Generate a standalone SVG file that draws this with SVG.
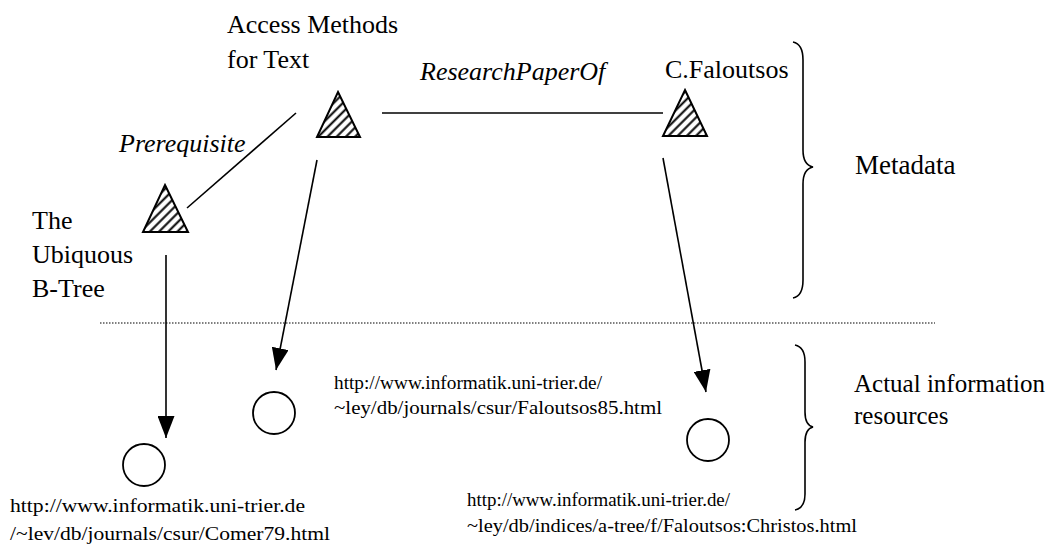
<svg xmlns="http://www.w3.org/2000/svg" width="1052" height="549" viewBox="0 0 1052 549">
<style>
text{font-family:"Liberation Serif","Times New Roman","DejaVu Serif",serif;fill:#000}
.lbl{font-size:26px}
.it{font-size:26px;font-style:italic}
.url{font-size:19px}
.ln{stroke:#000;stroke-width:1.6;fill:none}
.tri{fill:url(#hatch);stroke:#000;stroke-width:2;stroke-linejoin:miter}
.res{fill:#fff;stroke:#000;stroke-width:1.8}
.br{stroke:#000;stroke-width:1.6;fill:none}
</style>
<defs>
<pattern id="hatch" patternUnits="userSpaceOnUse" width="6.5" height="6.5" patternTransform="rotate(45)">
<rect width="6.5" height="6.5" fill="#fff"/>
<line x1="3.25" y1="0" x2="3.25" y2="6.5" stroke="#000" stroke-width="2"/>
</pattern>
<marker id="ah" viewBox="0 0 22 17" refX="22" refY="8.5" markerWidth="22" markerHeight="17" markerUnits="userSpaceOnUse" orient="auto">
<path d="M0,0 L22,8.5 L0,17 Z" fill="#000"/>
</marker>
</defs>
<rect width="1052" height="549" fill="#fff"/>
<line x1="100" y1="323" x2="935" y2="323" stroke="#000" stroke-width="1.2" stroke-dasharray="1.5,1.5"/>
<g id="connectors">
<line class="ln" x1="296" y1="113" x2="187" y2="208"/>
<line class="ln" x1="382" y1="113" x2="663" y2="113"/>
<line class="ln" x1="317" y1="160" x2="276" y2="370" marker-end="url(#ah)"/>
<line class="ln" x1="663" y1="158" x2="706" y2="392" marker-end="url(#ah)"/>
<line class="ln" x1="166" y1="255" x2="166" y2="438" marker-end="url(#ah)"/>
<text class="it" x="119" y="152">Prerequisite</text>
<text class="it" x="420" y="80">ResearchPaperOf</text>
</g>
<g id="access">
<polygon class="tri" points="338,92 360,137 317,137"/>
<text class="lbl" x="227" y="33">Access Methods</text>
<text class="lbl" x="227" y="68">for Text</text>
</g>
<g id="btree">
<polygon class="tri" points="165,185 188,232 143,232"/>
<text class="lbl" x="32" y="229">The</text>
<text class="lbl" x="32" y="263">Ubiquous</text>
<text class="lbl" x="32" y="297">B-Tree</text>
</g>
<g id="faloutsos">
<polygon class="tri" points="685,90 707,136 663,136"/>
<text class="lbl" x="665" y="78">C.Faloutsos</text>
</g>
<g id="res-comer">
<circle class="res" cx="144" cy="465" r="21"/>
<text class="url" x="10" y="512" textLength="295" lengthAdjust="spacingAndGlyphs">http://www.informatik.uni-trier.de</text>
<text class="url" x="10" y="540" textLength="320" lengthAdjust="spacingAndGlyphs">/~lev/db/journals/csur/Comer79.html</text>
</g>
<g id="res-falo85">
<circle class="res" cx="274" cy="413" r="21"/>
<text class="url" x="334" y="389" textLength="268" lengthAdjust="spacingAndGlyphs">http://www.informatik.uni-trier.de/</text>
<text class="url" x="334" y="414" textLength="328" lengthAdjust="spacingAndGlyphs">~ley/db/journals/csur/Faloutsos85.html</text>
</g>
<g id="res-christos">
<circle class="res" cx="708" cy="440" r="21"/>
<text class="url" x="467" y="506" textLength="263" lengthAdjust="spacingAndGlyphs">http://www.informatik.uni-trier.de/</text>
<text class="url" x="467" y="532" textLength="390" lengthAdjust="spacingAndGlyphs">~ley/db/indices/a-tree/f/Faloutsos:Christos.html</text>
</g>
<g id="metadata">
<path class="br" d="M793,42 Q803,44 803,60 L803,150 Q803,165 813,167 Q803,169 803,184 L803,280 Q803,296 793,298"/>
<text class="lbl" x="855" y="174" style="font-size:27px">Metadata</text>
</g>
<g id="actual">
<path class="br" d="M795,345 Q805,347 805,362 L805,412 Q805,425 813,427 Q805,429 805,442 L805,494 Q805,508 795,510"/>
<text class="lbl" x="854" y="392" style="font-size:25px">Actual information</text>
<text class="lbl" x="854" y="424" style="font-size:25px">resources</text>
</g>
</svg>
